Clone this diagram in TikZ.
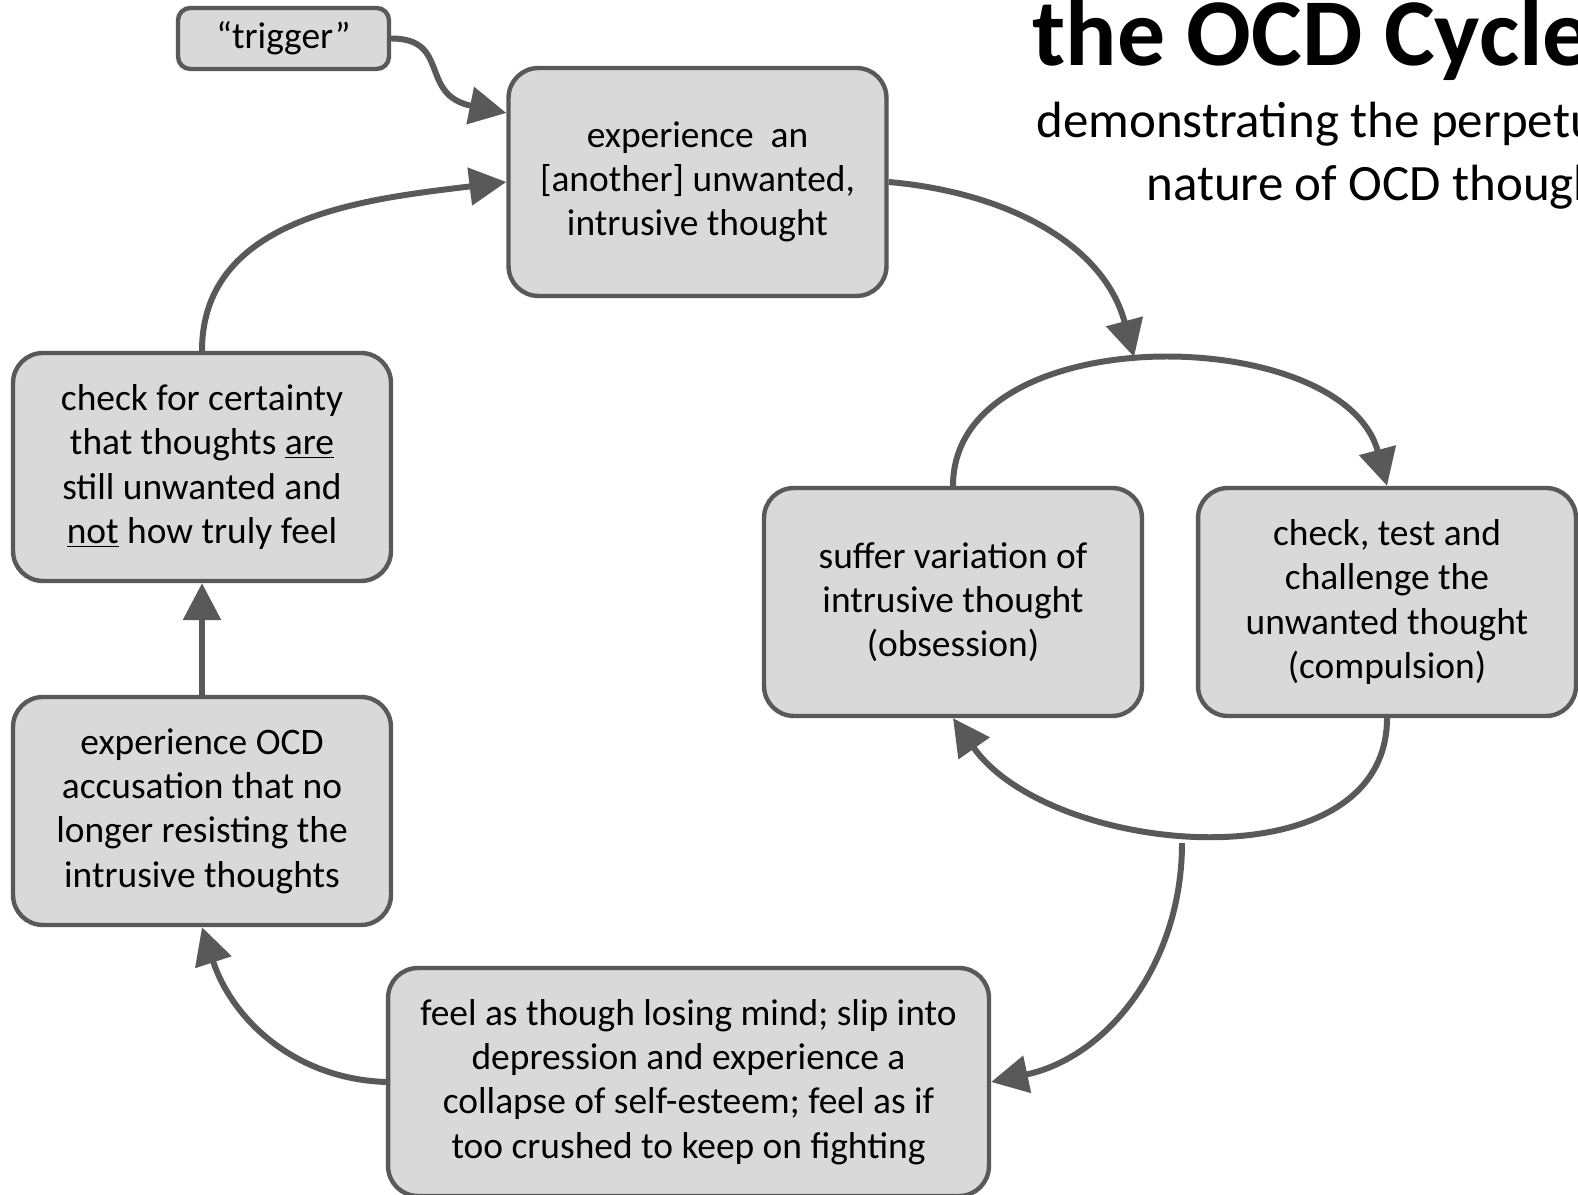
\documentclass[tikz,border=0pt]{standalone}
\usepackage{fontspec}
\setmainfont{Carlito}
\usetikzlibrary{arrows.meta, calc}

\definecolor{boxgray}{HTML}{D9D9D9}
\definecolor{linegray}{HTML}{595959}

\tikzset{
  stepbox/.style={draw=linegray, fill=boxgray, line width=2.5pt, rounded corners=17pt,
    align=center, minimum width=7.56cm, minimum height=4.56cm, inner sep=2pt,
    font=\fontsize{21.3}{25.2}\selectfont},
  flow/.style={draw=linegray, line width=3.4pt, -{Triangle[length=21pt,width=21pt]}},
}

\begin{document}
\begin{tikzpicture}[x=0.02cm, y=0.02cm]
    \useasboundingbox (0,0) rectangle (1578,1195);

    % Title and subtitle, cut off at the right edge
    \node[anchor=base west, inner sep=0, font=\fontsize{54.5}{60}\selectfont\bfseries] (title) at (1032,1129) {the OCD Cycle};
    \node[anchor=base west, inner sep=0, font=\fontsize{29}{36}\selectfont] (subone) at (1036,1057) {demonstrating the perpetual};
    \node[anchor=base west, inner sep=0, font=\fontsize{29}{36}\selectfont] (subtwo) at (1146,994) {nature of OCD thoughts};

    % Steps of the cycle
    \node[stepbox, minimum width=4.22cm, minimum height=1.22cm, rounded corners=7pt] (trigger) at (283.5,1156.5) {“trigger”};
    \node[stepbox] (intrusive) at (697.5,1013) {experience \ an\\{}[another] unwanted,\\intrusive thought};
    \node[stepbox] (certainty) at (202,728) {check for certainty\\that thoughts \underline{are}\\still unwanted and\\\underline{not} how truly feel};
    \node[stepbox] (accusation) at (202,384) {experience OCD\\accusation that no\\longer resisting the\\intrusive thoughts};
    \node[stepbox, minimum width=12.02cm] (collapse) at (688.5,113) {feel as though losing mind; slip into\\depression and experience a\\collapse of self-esteem; feel as if\\too crushed to keep on fighting};
    \node[stepbox] (obsession) at (953,593) {suffer variation of\\intrusive thought\\(obsession)};
    \node[stepbox] (compulsion) at (1387,593) {check, test and\\challenge the\\unwanted thought\\(compulsion)};

    % Where the outer arrows meet the inner loop
    \coordinate (looptop) at (1134,838);
    \coordinate (loopbot) at (1182,352);

    % Arrows
    \draw[flow] (trigger.east) .. controls +(60,0) and +(-88,18) .. ($(intrusive.west)+(0,69)$);
    \draw[flow] (certainty.north) to[out=90,in=187] (intrusive.west);
    \draw[flow] (intrusive.east) to[out=-5,in=105] (looptop);
    \draw[flow] (obsession.north) to[out=90,in=105] (compulsion.north);
    \draw[flow] (compulsion.south) to[out=-90,in=-55] (obsession.south);
    \draw[flow] (loopbot) to[out=-90,in=12] (collapse.east);
    \draw[flow] (collapse.west) to[out=178,in=-72] (accusation.south);
    \draw[flow] (accusation) -- (certainty);

\end{tikzpicture}
\end{document}
